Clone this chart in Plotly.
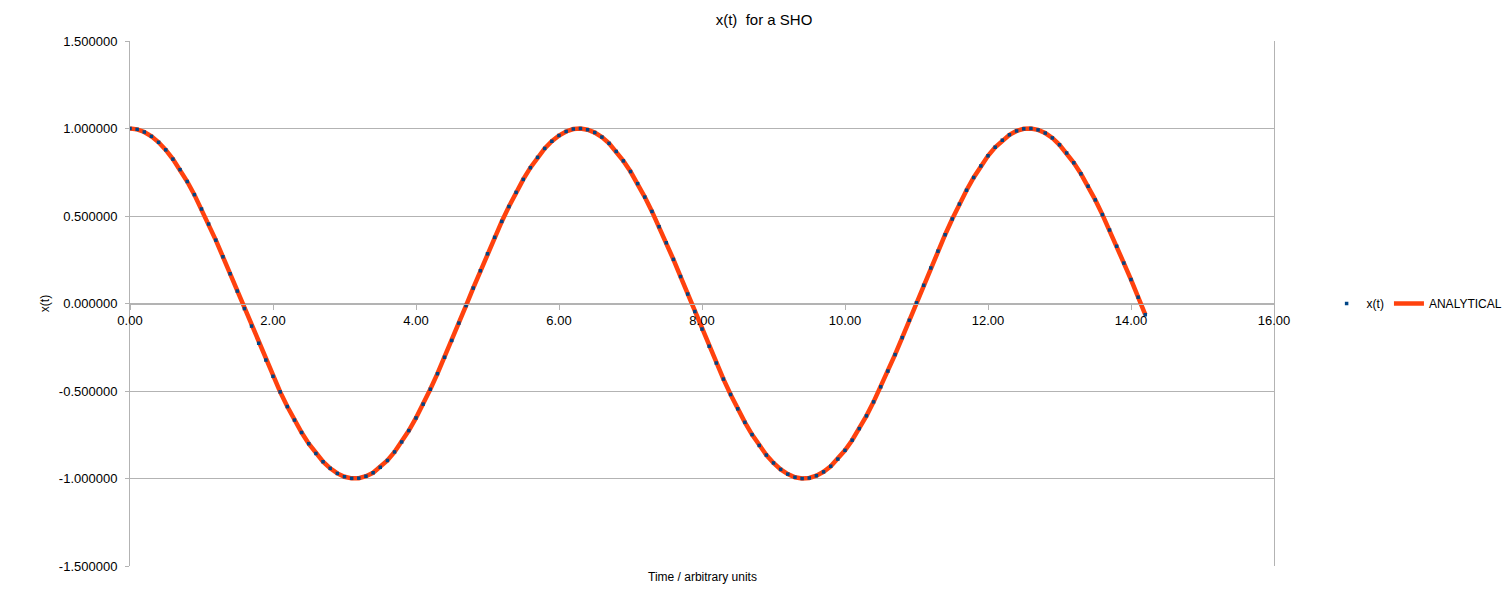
import plotly.graph_objects as go

# Time values (arbitrary units) (step of one dot)
t_values = [
    0.0, 0.1, 0.2, 0.3, 0.4, 0.5, 0.6, 0.7, 0.8, 0.9,
    1.0, 1.1, 1.2, 1.3, 1.4, 1.5, 1.6, 1.7, 1.8, 1.9,
    2.0, 2.1, 2.2, 2.3, 2.4, 2.5, 2.6, 2.7, 2.8, 2.9,
    3.0, 3.1, 3.2, 3.3, 3.4, 3.5, 3.6, 3.7, 3.8, 3.9,
    4.0, 4.1, 4.2, 4.3, 4.4, 4.5, 4.6, 4.7, 4.8, 4.9,
    5.0, 5.1, 5.2, 5.3, 5.4, 5.5, 5.6, 5.7, 5.8, 5.9,
    6.0, 6.1, 6.2, 6.3, 6.4, 6.5, 6.6, 6.7, 6.8, 6.9,
    7.0, 7.1, 7.2, 7.3, 7.4, 7.5, 7.6, 7.7, 7.8, 7.9,
    8.0, 8.1, 8.2, 8.3, 8.4, 8.5, 8.6, 8.7, 8.8, 8.9,
    9.0, 9.1, 9.2, 9.3, 9.4, 9.5, 9.6, 9.7, 9.8, 9.9,
    10.0, 10.1, 10.2, 10.3, 10.4, 10.5, 10.6, 10.7, 10.8, 10.9,
    11.0, 11.1, 11.2, 11.3, 11.4, 11.5, 11.6, 11.7, 11.8, 11.9,
    12.0, 12.1, 12.2, 12.3, 12.4, 12.5, 12.6, 12.7, 12.8, 12.9,
    13.0, 13.1, 13.2, 13.3, 13.4, 13.5, 13.6, 13.7, 13.8, 13.9,
    14.0, 14.1, 14.2,
]

# x(t) values (numerical and analytical overlap in the picture)
x_values = [
    1.000, 0.995, 0.980, 0.955, 0.921, 0.878, 0.825, 0.765, 0.697, 0.622,
    0.540, 0.454, 0.362, 0.267, 0.170, 0.071, -0.029, -0.129, -0.227, -0.323,
    -0.416, -0.505, -0.589, -0.666, -0.737, -0.801, -0.857, -0.904, -0.942, -0.971,
    -0.990, -0.999, -0.998, -0.987, -0.967, -0.936, -0.897, -0.848, -0.791, -0.726,
    -0.654, -0.575, -0.490, -0.401, -0.307, -0.211, -0.112, -0.012, 0.088, 0.187,
    0.284, 0.378, 0.469, 0.554, 0.635, 0.709, 0.776, 0.835, 0.886, 0.927,
    0.960, 0.983, 0.997, 1.000, 0.993, 0.977, 0.951, 0.915, 0.869, 0.815,
    0.754, 0.685, 0.608, 0.526, 0.439, 0.347, 0.252, 0.154, 0.054, -0.046,
    -0.146, -0.244, -0.340, -0.432, -0.520, -0.602, -0.679, -0.749, -0.811, -0.866,
    -0.911, -0.948, -0.975, -0.993, -1.000, -0.997, -0.984, -0.962, -0.930, -0.889,
    -0.839, -0.781, -0.715, -0.642, -0.562, -0.476, -0.386, -0.292, -0.195, -0.096,
    0.004, 0.104, 0.203, 0.299, 0.393, 0.483, 0.568, 0.647, 0.720, 0.786,
    0.844, 0.893, 0.933, 0.964, 0.986, 0.998, 1.000, 0.992, 0.974, 0.946,
    0.907, 0.860, 0.804, 0.741, 0.670, 0.592, 0.508, 0.420, 0.327, 0.231,
    0.137, 0.036, -0.064,
]
analytical_values = x_values

x_ticks = [0, 2, 4, 6, 8, 10, 12, 14, 16]
y_ticks = [-1.5, -1.0, -0.5, 0.0, 0.5, 1.0, 1.5]
y_tick_labels = ["-1.500000", "-1.000000", "-0.500000", "0.000000",
                 "0.500000", "1.000000", "1.500000"]

FONT = "Liberation Sans, Arial, sans-serif"
GRID = "#b3b3b3"

fig = go.Figure()
fig.add_trace(go.Scatter(
    x=t_values, y=analytical_values, mode="lines", name="ANALYTICAL",
    line=dict(color="#ff420e", width=4.5), legendrank=2,
))
fig.add_trace(go.Scatter(
    x=t_values, y=x_values, mode="markers", name="x(t)",
    marker=dict(color="#004586", size=3.5, symbol="square", line=dict(width=0)),
    legendrank=1,
))

fig.update_layout(
    width=1512, height=606,
    margin=dict(l=122, r=240, t=33, b=48),
    paper_bgcolor="white", plot_bgcolor="white",
    font=dict(family=FONT, size=13, color="#000000"),
    title=dict(text="x(t)  for a SHO", x=0.5, xanchor="center", y=0.981,
               yanchor="middle", font=dict(family=FONT, size=15, color="#000000")),
    showlegend=True,
    legend=dict(orientation="h", x=1.046, xanchor="left", y=0.5, yanchor="middle",
                font=dict(family=FONT, size=12), bgcolor="rgba(0,0,0,0)",
                itemwidth=30, tracegroupgap=0),
    xaxis=dict(
        range=[0, 16], tickvals=x_ticks, tickformat=".2f",
        showgrid=False, zeroline=False,
        showline=True, linecolor=GRID, linewidth=1,
        ticks="outside", ticklen=5, tickcolor=GRID,
        anchor="free", position=0.5,
        tickfont=dict(family=FONT, size=13),
    ),
    yaxis=dict(
        range=[-1.5, 1.5], tickvals=y_ticks, ticktext=y_tick_labels,
        showgrid=True, gridcolor=GRID, gridwidth=1, zeroline=False,
        showline=True, linecolor=GRID, linewidth=1, mirror=True,
        ticks="outside", ticklen=4, tickcolor=GRID, ticklabelstandoff=5,
        title=dict(text="x(t)", font=dict(family=FONT, size=12), standoff=6),
        tickfont=dict(family=FONT, size=13),
        automargin=False,
    ),
    annotations=[dict(
        text="Time / arbitrary units", xref="paper", yref="paper",
        x=0.5, y=-0.021, xanchor="center", yanchor="middle", showarrow=False,
        font=dict(family=FONT, size=12, color="#000000"),
    )],
)

fig.write_html("out.html")
